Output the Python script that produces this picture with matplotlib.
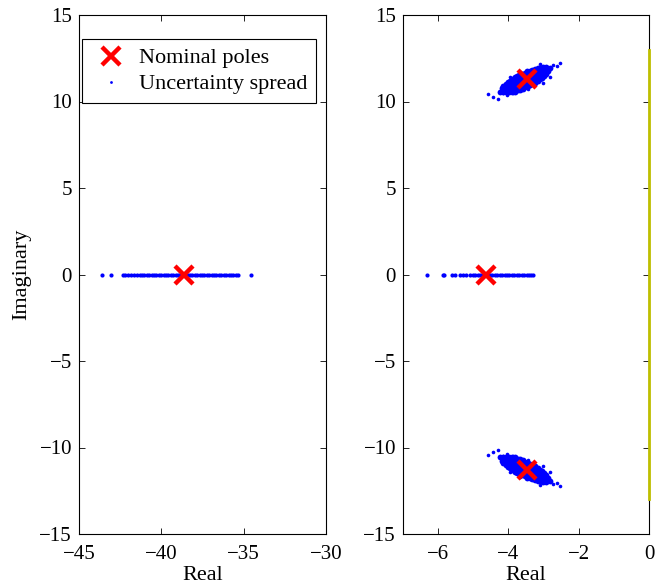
import matplotlib
matplotlib.use("Agg")
import matplotlib.pyplot as plt

# ---------------- data ----------------
# Left panel: fast real pole
left_nominal_x = [-38.62]
left_nominal_y = [0.0]
left_spread_x = [-43.62, -43.08, -42.31, -42.18, -42.05, -41.82, -41.66,
                 -41.46, -41.32, -41.18, -41.03, -40.88, -40.74, -40.59, -40.45,
                 -40.30, -40.15, -40.01, -39.86, -39.72, -39.57, -39.42, -39.28,
                 -39.13, -38.99, -38.84, -38.69, -38.55, -38.40, -38.26, -38.11,
                 -37.96, -37.82, -37.67, -37.53, -37.38, -37.23, -37.09, -36.94,
                 -36.80, -36.65, -36.50, -36.36, -36.21, -36.07, -35.92, -35.78,
                 -35.63, -35.48, -35.33, -34.56]
left_spread_y = [0.0] * len(left_spread_x)

# Right panel: nominal poles
right_nominal_x = [-4.64, -3.48, -3.48]
right_nominal_y = [0.0, 11.28, -11.28]

# Right panel: real-pole spread
real_spread_x = [-6.33, -5.86, -5.82, -5.61, -5.52, -5.38, -5.29, -5.20,
                 -5.09, -5.02, -4.95, -4.88, -4.81, -4.74, -4.67, -4.60, -4.53,
                 -4.46, -4.39, -4.32, -4.25, -4.18, -4.11, -4.04, -3.97, -3.90,
                 -3.83, -3.76, -3.69, -3.62, -3.55, -3.48, -3.42, -3.37, -3.30]
real_spread_y = [0.0] * len(real_spread_x)

# Right panel: complex-pole spread (upper half; lower half is its conjugate)
cplx_core_x = [-4.240, -4.196, -4.147, -4.142, -4.098, -4.058, -4.080, -4.045,
               -4.009, -3.974, -4.018, -3.987, -3.956, -3.925, -3.894, -3.952,
               -3.921, -3.889, -3.858, -3.827, -3.809, -3.890, -3.859, -3.827,
               -3.796, -3.765, -3.738, -3.823, -3.792, -3.761, -3.730, -3.699,
               -3.663, -3.748, -3.712, -3.681, -3.645, -3.614, -3.587, -3.686,
               -3.654, -3.623, -3.592, -3.561, -3.530, -3.610, -3.575, -3.543,
               -3.512, -3.481, -3.450, -3.535, -3.495, -3.459, -3.428, -3.397,
               -3.374, -3.468, -3.437, -3.406, -3.375, -3.344, -3.312, -3.388,
               -3.357, -3.326, -3.295, -3.264, -3.237, -3.317, -3.282, -3.250,
               -3.219, -3.188, -3.166, -3.242, -3.206, -3.175, -3.144, -3.113,
               -3.166, -3.131, -3.095, -3.060, -3.037, -3.086, -3.051, -3.015,
               -2.980, -3.007, -2.962, -2.922, -2.918, -2.864, -2.820]
cplx_core_y = [10.575, 10.760, 10.544, 10.907, 10.710, 10.533, 11.014, 10.856,
               10.699, 10.541, 11.121, 10.983, 10.845, 10.707, 10.569, 11.208,
               11.070, 10.932, 10.794, 10.656, 10.578, 11.315, 11.177, 11.039,
               10.901, 10.763, 10.645, 11.402, 11.264, 11.126, 10.988, 10.850,
               10.693, 11.450, 11.292, 11.154, 10.997, 10.859, 10.741, 11.557,
               11.419, 11.281, 11.143, 11.005, 10.867, 11.605, 11.447, 11.309,
               11.171, 11.033, 10.895, 11.652, 11.475, 11.318, 11.180, 11.042,
               10.943, 11.740, 11.602, 11.464, 11.326, 11.188, 11.050, 11.768,
               11.630, 11.492, 11.354, 11.216, 11.098, 11.835, 11.678, 11.540,
               11.402, 11.264, 11.165, 11.883, 11.725, 11.588, 11.450, 11.312,
               11.931, 11.773, 11.616, 11.458, 11.360, 11.959, 11.801, 11.644,
               11.486, 11.987, 11.790, 11.613, 11.976, 11.739, 11.925]
cplx_out_x = [-4.573, -4.306, -4.45, -4.146, -4.05, -3.86, -3.43, -3.01,
              -3.67, -3.96, -2.533, -2.609, -2.72, -3.10, -2.96, -2.82]
cplx_out_y = [10.42, 10.13, 10.25, 10.47, 10.37, 10.47, 10.70, 11.05,
              11.72, 11.43, 12.24, 12.05, 12.11, 12.15, 11.82, 11.43]

# Stability boundary (imaginary axis segment)
boundary_x = [0.0, 0.0]
boundary_y = [-13.0, 13.0]

yticks = [-15, -10, -5, 0, 5, 10, 15]
left_xticks = [-45, -40, -35, -30]
right_xticks = [-6, -4, -2, 0]

# ---------------- plot ----------------
plt.rcParams['font.family'] = ['Liberation Serif', 'DejaVu Serif']
plt.rcParams['font.size'] = 15
plt.rcParams['axes.linewidth'] = 0.8

fig = plt.figure(figsize=(6.57, 5.86), dpi=100)
axL = fig.add_axes([79/657, 52/586, 247/657, 519/586])
axR = fig.add_axes([403/657, 52/586, 246/657, 519/586])

blue = (0, 0, 1)
red = (1, 0, 0)
ms_dot = 3.0

# left
axL.plot(left_spread_x, left_spread_y, 'o', color=blue, ms=ms_dot, mew=0,
         label='Uncertainty spread', zorder=2)
axL.plot(left_nominal_x, left_nominal_y, 'x', color=red, ms=13, mew=3.2,
         label='Nominal poles', zorder=3)

# right
axR.plot(real_spread_x, real_spread_y, 'o', color=blue, ms=ms_dot, mew=0, zorder=2)
for sgn in (1, -1):
    axR.plot(cplx_core_x, [sgn * v for v in cplx_core_y], 'o', color=blue,
             ms=4.2, mew=0, zorder=2)
    axR.plot(cplx_out_x, [sgn * v for v in cplx_out_y], 'o', color=blue,
             ms=2.6, mew=0, zorder=2)
axR.plot(right_nominal_x, right_nominal_y, 'x', color=red, ms=13, mew=3.2, zorder=3)
axR.plot(boundary_x, boundary_y, color=(0.75, 0.75, 0.0), lw=2, clip_on=False, zorder=4)

for ax in (axL, axR):
    ax.set_ylim(-15, 15)
    ax.set_yticks(yticks)
    ax.tick_params(direction='in', top=True, right=True, length=4, width=0.6,
                   labelsize=15)
    ax.tick_params(axis='x', pad=8)
    ax.tick_params(axis='y', pad=5)
    ax.set_xlabel('Real', fontsize=16, labelpad=1)

axL.set_xlim(-45, -30)
axL.set_xticks(left_xticks)
axR.set_xlim(-7, 0)
axR.set_xticks(right_xticks)
axL.set_ylabel('Imaginary', fontsize=16, labelpad=6)

h, l = axL.get_legend_handles_labels()
leg = axL.legend(h[::-1], l[::-1], loc='upper left', bbox_to_anchor=(0.012, 0.954),
                 borderaxespad=0, fancybox=False, edgecolor='black', framealpha=1,
                 fontsize=16, handlelength=1.8, handletextpad=0.35, labelspacing=0.25,
                 borderpad=0.4, markerscale=1.0)
leg.get_frame().set_linewidth(0.8)
leg.legend_handles[1].set_markersize(2)

fig.savefig('out.png', dpi=100)
